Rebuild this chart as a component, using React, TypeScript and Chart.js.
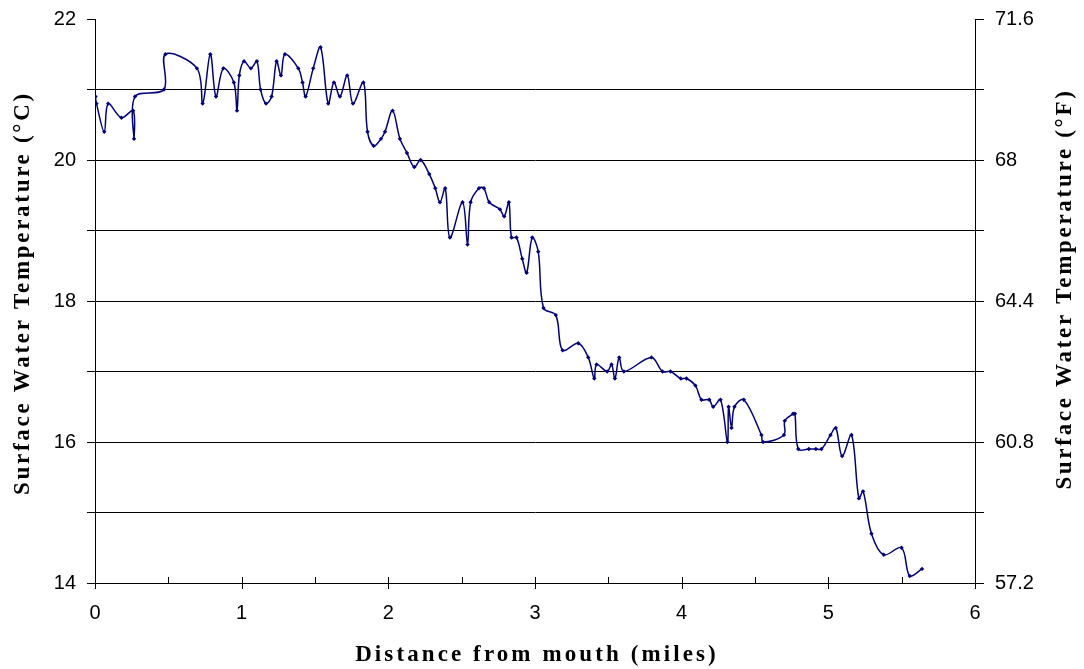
import React, { useEffect, useRef } from "react";
import { Chart, registerables } from "chart.js";

Chart.register(...registerables);

// Distance from mouth (miles)
const distances: number[] = [
  0.003, 0.01, 0.063, 0.09, 0.18, 0.26, 0.266, 0.273, 0.47, 0.48,
  0.695, 0.734, 0.786, 0.825, 0.875, 0.947, 0.968, 0.984, 1.016, 1.063,
  1.104, 1.129, 1.166, 1.204, 1.238, 1.268, 1.295, 1.386, 1.415, 1.436,
  1.488, 1.538, 1.59, 1.629, 1.67, 1.72, 1.759, 1.83, 1.858, 1.9,
  1.95, 1.977, 2.029, 2.079, 2.127, 2.177, 2.22, 2.279, 2.32, 2.352,
  2.388, 2.42, 2.506, 2.54, 2.561, 2.618, 2.652, 2.688, 2.761, 2.79,
  2.822, 2.84, 2.874, 2.913, 2.943, 2.981, 3.022, 3.058, 3.142, 3.188,
  3.295, 3.363, 3.404, 3.42, 3.492, 3.522, 3.545, 3.574, 3.606, 3.794,
  3.869, 3.924, 3.994, 4.033, 4.094, 4.135, 4.188, 4.215, 4.265, 4.312,
  4.32, 4.34, 4.36, 4.424, 4.544, 4.555, 4.697, 4.703, 4.76, 4.772,
  4.795, 4.867, 4.915, 4.953, 5.015, 5.051, 5.094, 5.158, 5.208, 5.237,
  5.294, 5.378, 5.499, 5.555, 5.639,
];

// Surface water temperature (°C)
const temperatures: number[] = [
  20.9, 20.8, 20.4, 20.8, 20.6, 20.7, 20.3, 20.9, 21.0, 21.5,
  21.3, 20.8, 21.5, 20.9, 21.3, 21.1, 20.7, 21.2, 21.4, 21.3,
  21.4, 21.0, 20.8, 20.9, 21.4, 21.2, 21.5, 21.3, 21.1, 20.9,
  21.3, 21.6, 20.8, 21.1, 20.9, 21.2, 20.8, 21.1, 20.4, 20.2,
  20.3, 20.4, 20.7, 20.3, 20.1, 19.9, 20.0, 19.8, 19.6, 19.4,
  19.6, 18.9, 19.4, 18.8, 19.4, 19.6, 19.6, 19.4, 19.3, 19.2,
  19.4, 18.9, 18.9, 18.6, 18.4, 18.9, 18.7, 17.9, 17.8, 17.3,
  17.4, 17.2, 16.9, 17.1, 17.0, 17.1, 16.9, 17.2, 17.0, 17.2,
  17.0, 17.0, 16.9, 16.9, 16.8, 16.6, 16.6, 16.5, 16.6, 16.0,
  16.5, 16.2, 16.5, 16.6, 16.1, 16.0, 16.1, 16.3, 16.4, 16.4,
  15.9, 15.9, 15.9, 15.9, 16.1, 16.2, 15.8, 16.1, 15.2, 15.3,
  14.7, 14.4, 14.5, 14.1, 14.2,
];

const xTitle = "Distance from mouth (miles)";
const yLeftTitle = "Surface Water Temperature (°C)";
const yRightTitle = "Surface Water Temperature (°F)";

const xMin = 0;
const xMax = 6;
const yMin = 14;
const yMax = 22;

const tickFont = { family: '"Liberation Sans", Arial, sans-serif', size: 20 };
const titleFont = 'bold 23px "Liberation Serif", "Times New Roman", serif';

const toF = (c: number) => {
  const f = Math.round((c * 9 / 5 + 32) * 10) / 10;
  return Number.isInteger(f) ? String(f) : f.toFixed(1);
};

const decorPlugin = {
  id: "decor",
  afterDraw(chart: any) {
    const { ctx, chartArea } = chart;
    const xs = chart.scales.x;
    ctx.save();
    // x-axis tick marks: majors cross, halves inside
    ctx.strokeStyle = "#000";
    ctx.lineWidth = 1;
    for (let v = xMin; v <= xMax + 1e-9; v += 0.5) {
      const px = Math.round(xs.getPixelForValue(v)) + 0.5;
      const major = Math.abs(v - Math.round(v)) < 1e-9;
      ctx.beginPath();
      ctx.moveTo(px, chartArea.bottom - 6);
      ctx.lineTo(px, chartArea.bottom + (major ? 6 : 0));
      ctx.stroke();
    }
    // titles
    ctx.fillStyle = "#000";
    ctx.font = titleFont;
    ctx.textAlign = "center";
    ctx.textBaseline = "middle";
    (ctx as any).letterSpacing = "3.1px";
    ctx.fillText(xTitle, (chartArea.left + chartArea.right) / 2 + 2, chart.height - 14);
    (ctx as any).letterSpacing = "2.7px";
    const midY = (chartArea.top + chartArea.bottom) / 2 - 8;
    ctx.save();
    ctx.translate(23, midY);
    ctx.rotate(-Math.PI / 2);
    ctx.fillText(yLeftTitle, 0, 0);
    ctx.restore();
    ctx.save();
    ctx.translate(chart.width - 19, midY - 4);
    ctx.rotate(-Math.PI / 2);
    ctx.fillText(yRightTitle, 0, 0);
    ctx.restore();
    ctx.restore();
  },
};

export default function App() {
  const canvasRef = useRef<HTMLCanvasElement | null>(null);

  useEffect(() => {
    const canvas = canvasRef.current;
    if (!canvas) return;
    const points = distances.map((d, i) => ({ x: d, y: temperatures[i] }));
    const chart = new Chart(canvas, {
      type: "scatter",
      data: {
        datasets: [
          {
            data: points,
            showLine: true,
            borderColor: "#000080",
            backgroundColor: "#000080",
            borderWidth: 1.5,
            tension: 0.35,
            pointStyle: "rectRot",
            pointRadius: 2.2,
            pointBorderWidth: 0,
            pointBackgroundColor: "#000080",
          } as any,
        ],
      },
      options: {
        responsive: false,
        animation: false,
        events: [],
        layout: { padding: { top: 19, left: 0, right: 0, bottom: 0 } },
        plugins: {
          legend: { display: false },
          tooltip: { enabled: false },
          title: { display: false },
        },
        scales: {
          x: {
            type: "linear",
            min: xMin,
            max: xMax,
            border: { display: true, color: "#000", width: 1 },
            grid: { display: true, drawOnChartArea: false, drawTicks: false },
            ticks: {
              stepSize: 1,
              color: "#000",
              font: tickFont,
              padding: 18,
              callback: (v: any) => String(v),
            },
            afterFit: (s: any) => {
              s.height = 86;
              s.paddingLeft = 0;
              s.paddingRight = 0;
            },
          },
          y: {
            type: "linear",
            position: "left",
            min: yMin,
            max: yMax,
            border: { display: true, color: "#000", width: 1 },
            grid: {
              color: (c: any) => (c.tick && (c.tick.value === yMax || c.tick.value === yMin) ? "rgba(0,0,0,0)" : "#000"),
              tickColor: "#000",
              tickLength: 8,
              lineWidth: 1,
            },
            ticks: {
              stepSize: 1,
              color: "#000",
              font: tickFont,
              padding: 11,
              callback: (v: any) => (Number(v) % 2 === 0 ? String(v) : ""),
            },
            afterFit: (s: any) => {
              s.width = 95;
              s.paddingTop = 0;
              s.paddingBottom = 0;
            },
          },
          y2: {
            type: "linear",
            position: "right",
            min: yMin,
            max: yMax,
            border: { display: true, color: "#000", width: 1 },
            grid: {
              drawOnChartArea: false,
              tickColor: "#000",
              tickLength: 9,
            },
            ticks: {
              stepSize: 1,
              color: "#000",
              font: tickFont,
              padding: 11,
              callback: (v: any) => (Number(v) % 2 === 0 ? toF(Number(v)) : ""),
            },
            afterFit: (s: any) => {
              s.width = 109;
              s.paddingTop = 0;
              s.paddingBottom = 0;
            },
          },
        },
      },
      plugins: [decorPlugin],
    });
    return () => chart.destroy();
  }, []);

  return (
    <div style={{ position: "fixed", left: 0, top: 0, width: 1084, height: 669, background: "#fff" }}>
      <canvas ref={canvasRef} width={1084} height={669} style={{ display: "block" }} />
    </div>
  );
}
